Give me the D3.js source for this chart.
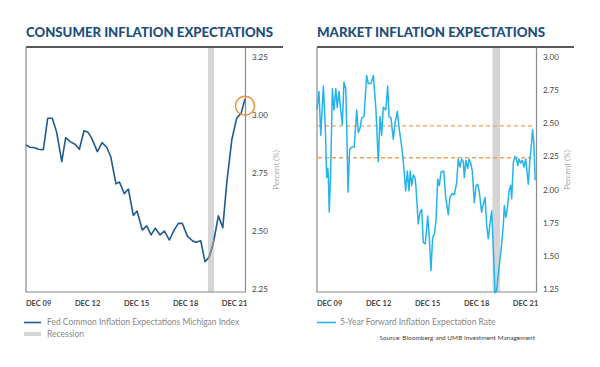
<!DOCTYPE html>
<html>
<head>
<meta charset="utf-8">
<script src="https://cdn.jsdelivr.net/npm/d3@7"></script>
<style>
  body { margin: 0; background: #fff; }
  svg { display: block; font-family: "Open Sans", sans-serif; }
</style>
</head>
<body>
<script>
// time is in decimal years, both panels share the same span
const yearSpan = [2009.18, 2022.59];
const tickYears = [2009.92, 2012.92, 2015.92, 2018.92, 2021.92];
const tickLabels = ["DEC 09", "DEC 12", "DEC 15", "DEC 18", "DEC 21"];

// consumer (Michigan) series
const consumerYears = [2009.18, 2009.43, 2009.73, 2009.93, 2010.24, 2010.51, 2010.79, 2011.06, 2011.37, 2011.61,
  2011.88, 2012.18, 2012.45, 2012.73, 2012.96, 2013.20, 2013.55, 2013.84, 2014.12, 2014.37,
  2014.69, 2014.90, 2015.20, 2015.45, 2015.75, 2015.98, 2016.30, 2016.57, 2016.84, 2017.10,
  2017.39, 2017.65, 2017.96, 2018.25, 2018.51, 2018.75, 2019.06, 2019.37, 2019.59, 2019.88,
  2020.14, 2020.39, 2020.65, 2020.96, 2021.23, 2021.47, 2021.78, 2022.08, 2022.35, 2022.59];
const consumerValues = [2.871, 2.861, 2.859, 2.852, 2.850, 2.986, 2.986, 2.925, 2.799, 2.902,
  2.885, 2.874, 2.852, 2.932, 2.927, 2.900, 2.842, 2.881, 2.861, 2.820,
  2.703, 2.711, 2.661, 2.681, 2.567, 2.586, 2.504, 2.522, 2.483, 2.512,
  2.483, 2.500, 2.461, 2.504, 2.533, 2.533, 2.478, 2.458, 2.451, 2.458,
  2.368, 2.387, 2.447, 2.565, 2.514, 2.706, 2.892, 2.986, 3.007, 3.069];
const consumerTicks = [2.25, 2.50, 2.75, 3.00, 3.25];
const consumerRecession = [2020.32, 2020.69];
const consumerHighlight = [2022.59, 3.04];

// market 5y5y series
const marketYears = [2009.18, 2009.30, 2009.41, 2009.57, 2009.69, 2009.77, 2009.84, 2009.87, 2009.93, 2010.02,
  2010.12, 2010.22, 2010.33, 2010.42, 2010.53, 2010.63, 2010.73, 2010.83, 2010.94, 2011.00,
  2011.08, 2011.18, 2011.30, 2011.46, 2011.61, 2011.71, 2011.81, 2011.92, 2012.06, 2012.22,
  2012.32, 2012.49, 2012.63, 2012.79, 2012.93, 2013.04, 2013.14, 2013.24, 2013.39, 2013.51,
  2013.59, 2013.71, 2013.85, 2013.96, 2014.10, 2014.20, 2014.37, 2014.46, 2014.61, 2014.71,
  2014.81, 2014.89, 2014.98, 2015.08, 2015.18, 2015.24, 2015.38, 2015.49, 2015.59, 2015.69,
  2015.81, 2015.96, 2016.06, 2016.16, 2016.26, 2016.36, 2016.47, 2016.57, 2016.67, 2016.77,
  2016.94, 2017.06, 2017.22, 2017.32, 2017.46, 2017.59, 2017.73, 2017.83, 2017.94, 2018.04,
  2018.14, 2018.20, 2018.30, 2018.41, 2018.49, 2018.59, 2018.69, 2018.81, 2018.92, 2019.02,
  2019.12, 2019.26, 2019.36, 2019.47, 2019.57, 2019.67, 2019.77, 2019.88, 2019.98, 2020.08,
  2020.18, 2020.28, 2020.39, 2020.49, 2020.59, 2020.65, 2020.74, 2020.83, 2020.94, 2021.04,
  2021.10, 2021.20, 2021.30, 2021.41, 2021.47, 2021.55, 2021.65, 2021.76, 2021.86, 2021.96,
  2022.12, 2022.22, 2022.32, 2022.38, 2022.46, 2022.54];
const marketValues = [2.60, 2.74, 2.41, 2.78, 2.47, 2.09, 2.16, 2.11, 1.83, 2.14,
  2.76, 2.60, 2.76, 2.62, 2.74, 2.60, 2.49, 2.81, 2.76, 2.47,
  1.98, 2.30, 2.32, 2.32, 2.60, 2.43, 2.46, 2.54, 2.55, 2.86,
  2.80, 2.80, 2.86, 2.60, 2.21, 2.55, 2.41, 2.62, 2.60, 2.78,
  2.55, 2.54, 2.38, 2.50, 2.59, 2.47, 2.32, 2.22, 1.99, 2.14,
  1.99, 2.14, 2.03, 2.11, 2.09, 2.02, 1.74, 1.83, 1.85, 1.60,
  1.59, 1.80, 1.63, 1.39, 1.64, 1.66, 1.77, 2.08, 2.03, 2.13,
  2.14, 1.94, 1.81, 1.94, 1.97, 1.96, 2.05, 2.23, 2.17, 2.23,
  2.21, 2.09, 2.22, 2.16, 2.23, 2.20, 2.14, 1.90, 2.03, 2.04,
  1.98, 1.83, 1.89, 1.94, 1.73, 1.63, 1.74, 1.84, 1.54, 1.22,
  1.24, 1.36, 1.48, 1.59, 1.74, 1.88, 1.79, 1.85, 1.99, 2.03,
  1.93, 2.20, 2.25, 2.22, 2.18, 2.23, 2.20, 2.22, 2.17, 2.23,
  2.04, 2.23, 2.35, 2.45, 2.35, 2.07];
const marketTicks = [1.25, 1.50, 1.75, 2.00, 2.25, 2.50, 2.75, 3.00];
const marketRecession = [2019.93, 2020.39];
const marketRefLines = [2.48, 2.24];

const width = 600, height = 367;
const plotTop = 47, plotBottom = 292;

const svg = d3.select("body").append("svg")
  .attr("width", width)
  .attr("height", height);

let drawPanel = (o) => {
  const x = d3.scaleLinear().domain(yearSpan).range([o.left, o.right]);
  const y = d3.scaleLinear().domain(o.yDomain).range([plotBottom, plotTop]);
  const g = svg.append("g");

  // title + rule
  g.append("text")
    .attr("x", o.left).attr("y", 37)
    .attr("textLength", o.titleWidth).attr("lengthAdjust", "spacingAndGlyphs")
    .style("font-family", "Lato, sans-serif")
    .style("font-weight", 900).style("font-size", "13.5px")
    .attr("fill", "#1d4e7e")
    .text(o.title);
  g.append("line")
    .attr("x1", o.left).attr("x2", o.right + 38)
    .attr("y1", plotTop).attr("y2", plotTop)
    .attr("stroke", "#222").attr("stroke-width", 1.5);

  // recession band
  g.append("rect")
    .attr("x", x(o.recession[0])).attr("y", plotTop + 1)
    .attr("width", x(o.recession[1]) - x(o.recession[0]))
    .attr("height", plotBottom - plotTop - 1)
    .attr("fill", "#d5d5d5");

  // frame
  g.append("path")
    .attr("d", `M${o.left},${plotTop}V${plotBottom}H${o.right}`)
    .attr("fill", "none").attr("stroke", "#8a8a8a").attr("stroke-width", 1.2);

  const yAxis = d3.axisRight(y).tickValues(o.yTicks).tickSize(0).tickPadding(7)
    .tickFormat(d3.format(".2f"));
  const ya = g.append("g").attr("transform", `translate(${o.right},0)`).call(yAxis);
  ya.select(".domain").attr("stroke", "#8a8a8a").attr("stroke-width", 1.2);
  ya.selectAll("text").attr("fill", "#444").style("font-size", "8px")
    .style("font-family", "Lato, sans-serif");

  const xAxis = d3.axisBottom(x).tickValues(tickYears).tickSize(0).tickPadding(9)
    .tickFormat((d, i) => tickLabels[i]);
  const xa = g.append("g").attr("transform", `translate(0,${plotBottom})`).call(xAxis);
  xa.select(".domain").remove();
  xa.selectAll("text").attr("fill", "#444").style("font-size", "7.5px")
    .style("font-weight", 700).style("font-family", "Lato, sans-serif");

  g.append("text")
    .attr("transform", `translate(${o.right + 34},170) rotate(-90)`)
    .attr("text-anchor", "middle").attr("fill", "#aaa")
    .style("font-size", "8px").style("font-family", "Lato, sans-serif")
    .text("Percent (%)");

  return { g, x, y };
};

// left panel
const L = drawPanel({
  left: 26, right: 245, yDomain: [2.237, 3.293], yTicks: consumerTicks,
  recession: consumerRecession, title: "CONSUMER INFLATION EXPECTATIONS", titleWidth: 247
});
const consumerData = consumerYears.map((t, i) => [t, consumerValues[i]]);
const consumerLine = d3.line().x(d => L.x(d[0])).y(d => L.y(d[1]));
L.g.append("path").datum(consumerData)
  .attr("d", consumerLine).attr("fill", "none")
  .attr("stroke", "#1f5b90").attr("stroke-width", 1.6).attr("stroke-linejoin", "round");
// grey piece inside recession
svg.append("clipPath").attr("id", "recClip").append("rect")
  .attr("x", L.x(consumerRecession[0])).attr("y", plotTop)
  .attr("width", L.x(consumerRecession[1]) - L.x(consumerRecession[0]))
  .attr("height", plotBottom - plotTop);
L.g.append("path").datum(consumerData)
  .attr("d", consumerLine).attr("fill", "none").attr("clip-path", "url(#recClip)")
  .attr("stroke", "#8c8c8c").attr("stroke-width", 1.6);
L.g.append("circle")
  .attr("cx", L.x(consumerHighlight[0])).attr("cy", L.y(consumerHighlight[1]))
  .attr("r", 9.5).attr("fill", "none").attr("stroke", "#ef8f35").attr("stroke-width", 1.4);

// right panel
const R = drawPanel({
  left: 317, right: 536, yDomain: [1.227, 3.075], yTicks: marketTicks,
  recession: marketRecession, title: "MARKET INFLATION EXPECTATIONS", titleWidth: 228
});
R.g.selectAll(".ref").data(marketRefLines).enter().append("line")
  .attr("class", "ref")
  .attr("x1", 318).attr("x2", 535)
  .attr("y1", d => R.y(d)).attr("y2", d => R.y(d))
  .attr("stroke", "#f5a05a").attr("stroke-width", 1.4).attr("stroke-dasharray", "4,3");
const marketData = marketYears.map((t, i) => [t, marketValues[i]]);
R.g.append("path").datum(marketData)
  .attr("d", d3.line().x(d => R.x(d[0])).y(d => R.y(d[1])))
  .attr("fill", "none").attr("stroke", "#25b3ec").attr("stroke-width", 1.5)
  .attr("stroke-linejoin", "round");

// legends
const legend = svg.append("g").style("font-family", "Lato, sans-serif").style("font-size", "8.5px");
legend.append("line").attr("x1", 24).attr("x2", 41).attr("y1", 322.5).attr("y2", 322.5)
  .attr("stroke", "#1f5b90").attr("stroke-width", 1.6);
legend.append("text").attr("x", 47).attr("y", 322.5).attr("dy", "0.35em").attr("fill", "#888")
  .text("Fed Common Inflation Expectations Michigan Index");
legend.append("rect").attr("x", 24).attr("y", 332).attr("width", 17).attr("height", 4)
  .attr("fill", "#d5d5d5");
legend.append("text").attr("x", 47).attr("y", 334.5).attr("dy", "0.35em").attr("fill", "#888")
  .text("Recession");
legend.append("line").attr("x1", 317).attr("x2", 336).attr("y1", 322.5).attr("y2", 322.5)
  .attr("stroke", "#25b3ec").attr("stroke-width", 1.6);
legend.append("text").attr("x", 340).attr("y", 322.5).attr("dy", "0.35em").attr("fill", "#888")
  .text("5-Year Forward Inflation Expectation Rate");

svg.append("text").attr("x", 535).attr("y", 340).attr("text-anchor", "end")
  .attr("fill", "#444").style("font-size", "6.5px").style("font-family", "Lato, sans-serif")
  .text("Source: Bloomberg and UMB Investment Management");
</script>
</body>
</html>
